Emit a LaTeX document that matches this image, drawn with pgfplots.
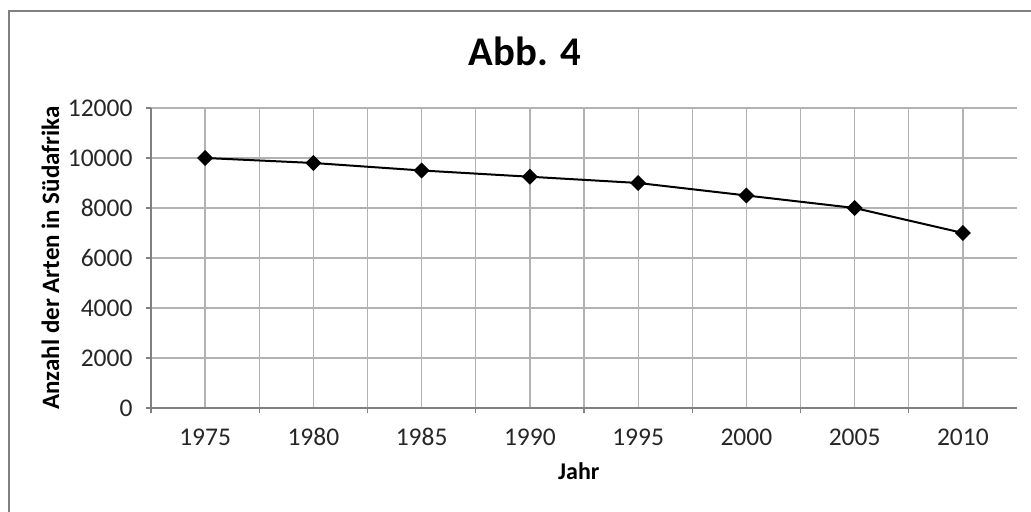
\documentclass[border=0pt]{standalone}
\usepackage{pgfplots}
\pgfplotsset{compat=1.18}
\usepackage{fontspec}
\setmainfont{Carlito}
\begin{document}
\begin{tikzpicture}
\clip (0,0) rectangle (412.4pt,204.8pt);
\draw[color=black!50, line width=0.8pt] (3.6pt,-10pt) -- (3.6pt,200.4pt) -- (430pt,200.4pt);
\begin{axis}[
  at={(60.4pt,41.6pt)}, anchor=south west,
  scale only axis, width=346.4pt, height=120pt,
  xmin=-0.5, xmax=7.5, ymin=0, ymax=12000,
  axis lines=left,
  axis line style={-, color=black!50, line width=0.5pt},
  scaled y ticks=false,
  /pgf/number format/assume math mode=true,
  /pgf/number format/1000 sep={},
  tick align=outside, major tick length=2pt, minor tick length=2pt,
  tick style={color=black!50, line width=0.5pt},
  every major x tick/.append style={draw=none},
  xtick={0,1,...,7},
  xticklabels={1975,1980,1985,1990,1995,2000,2005,2010},
  minor xtick={-0.5,0.5,...,6.5},
  xmajorgrids, xminorgrids,
  ytick={0,2000,...,12000},
  ymajorgrids,
  major grid style={color=black!30, line width=0.5pt},
  minor grid style={color=black!30, line width=0.5pt},
  xticklabel style={font=\fontsize{10.2}{12}\selectfont, text=black!85, anchor=north, inner sep=0pt, text height=7.2pt, text depth=0pt, yshift=-5.8pt},
  yticklabel style={font=\fontsize{10.2}{12}\selectfont, text=black!85, anchor=east, inner sep=0pt, xshift=-5.2pt},
  every axis title shift=0pt,
  title={Abb. 4},
  title style={font=\bfseries\fontsize{16.3}{20}\selectfont, at={(rel axis cs:0.432,1.19)}, anchor=center},
  xlabel={Jahr},
  xlabel style={font=\bfseries\fontsize{9.6}{12}\selectfont, at={(rel axis cs:0.494,-0.21)}, anchor=center},
  ylabel={Anzahl der Arten in Südafrika},
  ylabel style={font=\bfseries\fontsize{10}{12}\selectfont, at={(rel axis cs:-0.116,0.5)}, anchor=center, rotate=0},
]
\addplot[black, line width=0.8pt, mark=square*, mark size=1.85pt, mark options={rotate=45, solid}]
  coordinates {(0,10000) (1,9800) (2,9500) (3,9250) (4,9000) (5,8500) (6,8000) (7,7000)};
\end{axis}
\end{tikzpicture}
\end{document}
